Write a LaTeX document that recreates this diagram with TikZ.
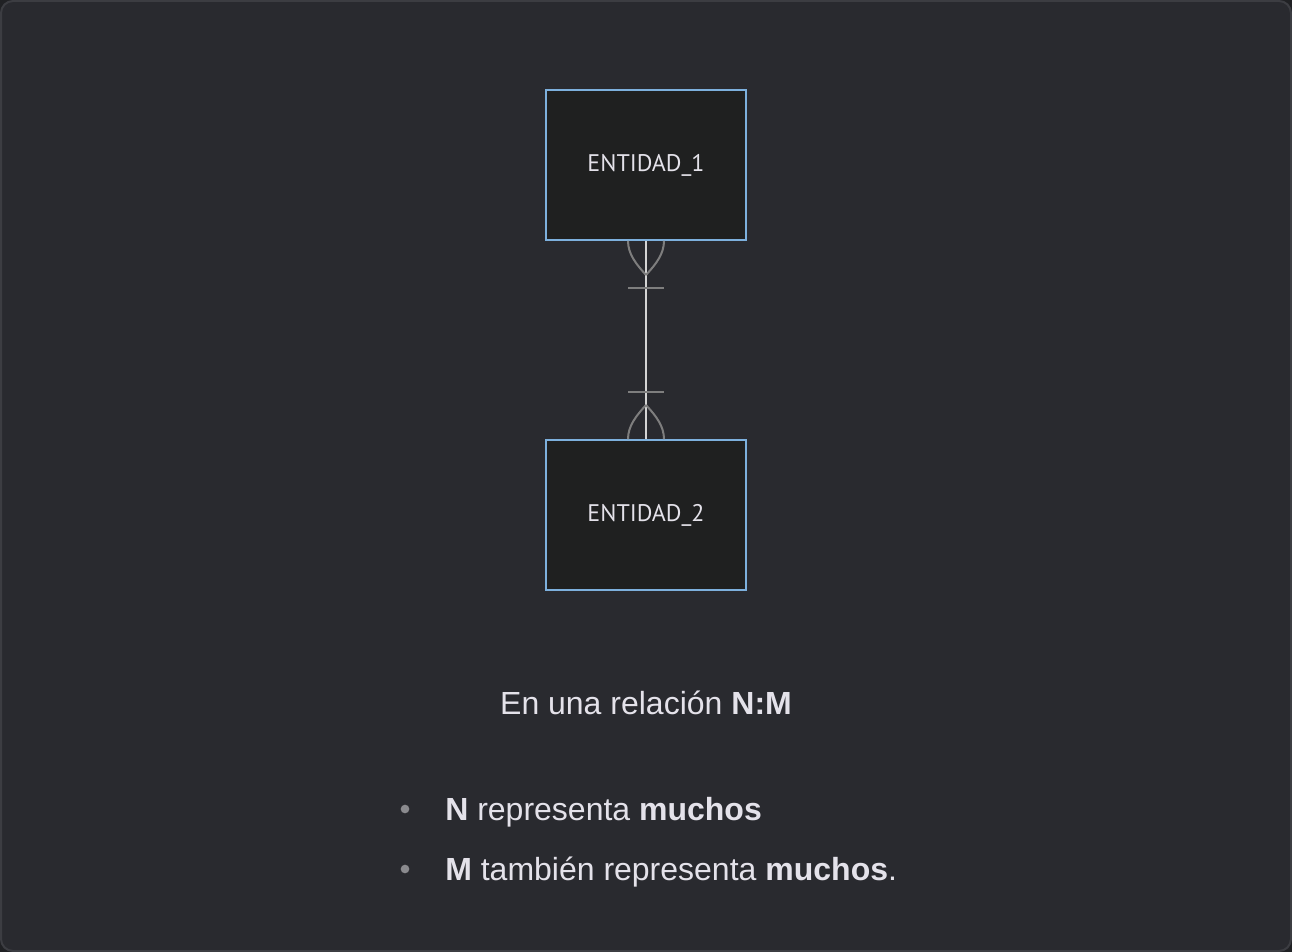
\documentclass[tikz,border=0pt]{standalone}
\usepackage{fontspec}
\setmainfont{Liberation Sans}
\newfontfamily\boxfont{PT Sans}
\definecolor{bgc}{HTML}{292A2F}
\definecolor{bgborder}{HTML}{3C3D42}
\definecolor{outerc}{HTML}{202124}
\definecolor{boxfill}{HTML}{1F2020}
\definecolor{boxline}{HTML}{7DB0DD}
\definecolor{relline}{HTML}{D4D4D4}
\definecolor{footc}{HTML}{7E7E7E}
\definecolor{txt}{HTML}{E4E2EA}
\definecolor{bulletc}{HTML}{8A8A8E}
\begin{document}
\begin{tikzpicture}[x=0.75pt,y=-0.75pt,
  entity/.style={draw=boxline,fill=boxfill,line width=1.5pt,minimum width=150pt,minimum height=112.5pt,inner sep=0pt,text=txt,font=\boxfont\fontsize{18pt}{20pt}\selectfont},
  rel/.style={draw=relline,line width=1.5pt},
  foot/.style={draw=footc,line width=1.5pt},
  para/.style={text=txt,font=\fontsize{24pt}{28pt}\selectfont,inner sep=0pt,anchor=base west},
  dot/.style={circle,fill=bulletc,inner sep=0pt,minimum size=6.5pt}]
\useasboundingbox (0,0) rectangle (1292,952);
\fill[outerc] (0,0) rectangle (1292,952);
\draw[bgborder,fill=bgc,line width=1.5pt,rounded corners=9pt] (1,1) rectangle (1291,951);
\node[entity] (e1) at (646,165) {ENTIDAD\_1};
\node[entity] (e2) at (646,515) {ENTIDAD\_2};
\draw[rel] (e1.south) -- (e2.north);
% crow's foot near entity 1
\coordinate (t1) at (646,275);
\draw[foot] (628,240.8) .. controls (628,254) and (636,264) .. (t1);
\draw[foot] (664,240.8) .. controls (664,254) and (656,264) .. (t1);
\draw[foot] (628,288) -- (664,288);
% crow's foot near entity 2
\coordinate (t2) at (646,405);
\draw[foot] (628,439.2) .. controls (628,426) and (636,416) .. (t2);
\draw[foot] (664,439.2) .. controls (664,426) and (656,416) .. (t2);
\draw[foot] (628,392) -- (664,392);
% texts
\node[para,anchor=base] (title) at (646,714) {En una relación \textbf{N:M}};
\node[dot] (b1) at (405,809) {};
\node[para] (l1) at (445,820) {\textbf{N} representa \textbf{muchos}};
\node[dot] (b2) at (405,869) {};
\node[para] (l2) at (445,880) {\textbf{M} también representa \textbf{muchos}.};
\end{tikzpicture}
\end{document}
